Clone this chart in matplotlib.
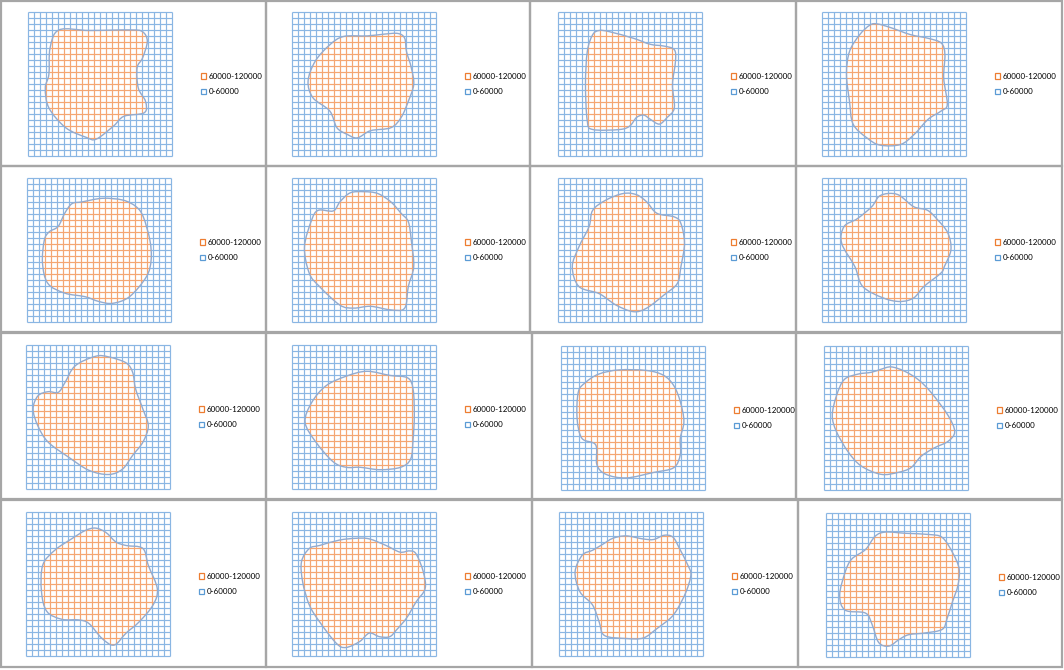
import numpy as np
import matplotlib
matplotlib.use("Agg")
import matplotlib.pyplot as plt
from matplotlib.path import Path
from matplotlib.patches import PathPatch, Rectangle, Patch

plt.rcParams['font.family'] = ['Lato', 'DejaVu Sans']

# ---------------- data ----------------
band_labels = ['60000-120000', '0-60000']   # contour bands (legend)
n_cells = 24                                 # surface grid: 24 x 24 cells

# boundary of the 60000 contour in each panel, (column, row-from-top) in grid cells
blob_01 = [(5.1, 2.9), (10.2, 3.0), (17.0, 2.9), (19.0, 3.2), (19.8, 4.8), (19.0, 7.6), (18.1, 9.2),
           (18.3, 12.6), (19.5, 14.8), (19.3, 16.7), (15.9, 17.3), (14.2, 18.9), (11.3, 21.1), (9.6, 20.8),
           (6.2, 19.2), (3.4, 15.9), (2.8, 12.6), (3.4, 10.3), (3.6, 5.9)]
blob_02 = [(8.5, 4.0), (12.5, 3.9), (15.3, 3.6), (17.6, 3.5), (18.7, 4.3), (19.0, 6.5), (19.8, 9.2),
           (20.2, 12.0), (19.3, 14.8), (18.1, 17.5), (16.4, 19.2), (13.0, 19.7), (10.8, 20.9), (9.1, 20.3),
           (7.4, 19.2), (6.2, 16.4), (3.4, 14.2), (2.6, 11.4), (3.8, 8.1), (6.2, 5.4)]
blob_03 = [(6.8, 3.0), (8.5, 3.2), (12.5, 4.3), (15.3, 5.3), (17.6, 5.6), (19.3, 6.2), (19.5, 8.1),
           (19.0, 12.0), (19.3, 15.9), (18.1, 17.5), (16.8, 18.6), (15.3, 17.8), (14.2, 17.1), (13.0, 17.5),
           (11.9, 18.9), (10.2, 19.5), (5.7, 19.5), (4.8, 18.1), (4.5, 12.0), (4.8, 6.5), (5.7, 3.7)]
blob_04 = [(9.1, 1.9), (11.3, 2.5), (14.7, 3.7), (17.6, 4.3), (19.8, 5.1), (20.4, 7.0), (20.2, 10.9),
           (20.8, 15.3), (19.8, 16.4), (17.6, 17.8), (15.3, 20.3), (13.0, 22.0), (9.6, 22.1), (7.4, 20.9),
           (5.1, 18.6), (4.5, 14.8), (4.0, 10.3), (4.5, 6.5), (6.2, 3.7), (7.9, 2.1)]
blob_05 = [(9.1, 3.9), (12.5, 3.3), (15.9, 3.6), (18.1, 4.7), (19.3, 6.4), (20.4, 10.3), (20.6, 13.6),
           (19.8, 16.4), (17.0, 19.7), (14.2, 20.8), (11.9, 20.5), (9.6, 19.7), (6.2, 19.1), (3.4, 17.5),
           (2.5, 14.1), (2.8, 10.3), (3.6, 8.9), (5.1, 8.0), (6.2, 5.8), (7.4, 4.2)]
blob_06 = [(9.6, 2.4), (11.9, 2.2), (14.2, 2.5), (16.4, 3.9), (18.1, 5.8), (19.3, 7.2), (19.8, 10.3),
           (20.2, 14.7), (19.3, 18.0), (18.7, 21.6), (16.4, 21.9), (13.0, 21.3), (10.2, 21.6), (7.9, 21.1),
           (4.5, 18.0), (2.8, 15.8), (2.0, 11.4), (3.2, 6.9), (4.3, 5.3), (6.8, 5.4), (7.9, 3.9)]
blob_07 = [(10.8, 2.5), (13.0, 2.7), (14.7, 3.9), (16.4, 5.8), (19.3, 6.4), (20.4, 7.5), (21.0, 10.8),
           (20.4, 14.7), (19.8, 17.5), (17.6, 19.4), (14.7, 21.6), (12.5, 22.2), (9.6, 21.1), (6.8, 19.2),
           (3.4, 18.0), (2.3, 14.7), (3.4, 11.4), (5.1, 8.0), (5.7, 5.3), (7.9, 3.6)]
blob_08 = [(11.0, 2.5), (12.8, 2.8), (15.2, 4.7), (17.5, 5.3), (19.2, 6.9), (20.9, 9.1), (21.4, 11.9),
           (20.3, 14.7), (19.7, 15.8), (16.9, 18.0), (15.2, 19.9), (12.9, 20.5), (10.1, 19.9), (6.7, 18.0),
           (5.4, 14.7), (3.2, 10.8), (3.6, 8.0), (5.8, 6.7), (8.2, 4.7), (9.4, 3.0)]
blob_09 = [(11.5, 1.8), (13.7, 1.9), (16.6, 2.9), (17.7, 4.5), (18.2, 7.3), (19.4, 10.6), (20.3, 13.4),
           (19.4, 16.1), (17.7, 18.3), (16.0, 20.6), (13.7, 21.5), (10.4, 20.8), (7.0, 18.6), (3.6, 16.1),
           (1.9, 13.4), (1.1, 10.6), (1.9, 8.4), (3.6, 7.7), (5.3, 7.8), (6.4, 6.2), (8.1, 3.4)]
blob_10 = [(12.4, 4.3), (16.3, 5.0), (19.2, 5.4), (20.1, 7.3), (20.3, 11.7), (20.1, 15.6), (19.7, 18.9),
           (18.0, 20.3), (14.6, 20.7), (11.3, 20.3), (9.0, 20.3), (6.8, 19.4), (3.9, 16.1), (2.1, 12.8),
           (3.2, 9.5), (5.6, 6.7), (9.0, 5.1)]
blob_11 = [(6.2, 4.6), (9.6, 3.9), (14.2, 4.0), (17.0, 4.8), (18.7, 6.5), (19.8, 9.2), (20.4, 12.5),
           (19.8, 15.3), (19.8, 18.0), (18.7, 20.2), (15.3, 21.0), (10.8, 21.9), (7.4, 21.3), (5.9, 19.7),
           (5.7, 16.4), (3.4, 15.3), (2.6, 12.0), (2.8, 7.6), (4.0, 6.0)]
blob_12 = [(9.4, 3.8), (11.1, 3.4), (13.3, 4.1), (15.6, 5.5), (17.8, 7.7), (20.6, 11.5), (21.7, 14.2),
           (20.6, 15.8), (18.3, 16.9), (16.1, 18.3), (14.4, 20.2), (12.2, 21.0), (9.4, 21.3), (6.1, 19.9),
           (3.9, 17.5), (2.0, 14.2), (1.3, 11.5), (2.0, 8.2), (3.3, 5.5), (5.6, 4.6), (7.8, 4.3)]
blob_13 = [(11.5, 2.6), (13.2, 3.3), (14.9, 4.9), (16.6, 5.5), (19.4, 6.0), (20.3, 8.8), (21.8, 12.7),
           (21.1, 15.4), (18.8, 18.2), (16.6, 20.1), (14.6, 22.1), (12.6, 21.0), (10.4, 18.5), (8.7, 17.9),
           (5.9, 17.8), (3.4, 16.5), (2.5, 13.2), (2.7, 8.8), (4.7, 6.3), (7.5, 4.4), (9.8, 3.0)]
blob_14 = [(2.8, 6.0), (4.5, 5.5), (7.8, 4.6), (10.6, 4.3), (12.8, 4.4), (15.6, 5.5), (17.9, 6.6),
           (19.5, 6.4), (20.6, 6.9), (21.8, 9.9), (22.1, 12.7), (20.6, 14.9), (19.0, 17.6), (17.3, 19.6),
           (16.2, 20.7), (14.5, 20.7), (12.8, 20.1), (11.2, 21.5), (8.9, 22.5), (7.3, 21.8), (4.5, 18.2),
           (2.8, 15.4), (1.7, 11.6), (1.5, 8.2)]
blob_15 = [(8.9, 4.3), (11.1, 3.9), (13.9, 4.4), (15.7, 4.5), (17.4, 3.8), (18.9, 4.1), (20.0, 6.0),
           (21.4, 8.8), (21.9, 10.4), (21.1, 13.2), (19.7, 16.0), (18.5, 17.6), (16.3, 19.3), (14.0, 20.9),
           (11.1, 21.0), (7.5, 20.5), (6.6, 18.2), (5.5, 15.4), (3.4, 13.2), (2.6, 9.9), (3.8, 7.1),
           (5.5, 6.3), (7.2, 5.3)]
blob_16 = [(9.8, 3.1), (13.2, 3.3), (17.1, 3.5), (19.3, 4.0), (21.0, 6.5), (22.1, 9.2), (21.9, 12.0),
           (21.0, 14.7), (20.1, 17.5), (19.3, 19.3), (16.5, 19.9), (13.7, 20.2), (12.1, 21.0), (10.4, 22.1),
           (8.7, 21.5), (7.6, 18.5), (6.5, 16.6), (3.1, 16.1), (2.2, 13.6), (3.1, 9.8), (4.2, 7.6),
           (6.5, 6.0), (8.1, 3.8)]

blobs = [blob_01, blob_02, blob_03, blob_04, blob_05, blob_06, blob_07, blob_08,
         blob_09, blob_10, blob_11, blob_12, blob_13, blob_14, blob_15, blob_16]

# ---------------- layout (pixels) ----------------
W, H = 1064, 670
frames = [(1, 1, 266, 166), (266, 1, 530, 166), (530, 1, 796, 166), (796, 1, 1062, 166),
          (1, 166, 266, 332), (266, 166, 530, 332), (530, 166, 796, 332), (796, 166, 1062, 332),
          (1, 333, 266, 499), (266, 333, 532, 499), (532, 333, 796, 499), (796, 333, 1062, 499),
          (1, 500, 266, 667), (266, 500, 532, 667), (532, 500, 798, 667), (798, 500, 1062, 667)]
# top-left corner of each 144 x 144 px surface grid
grid_origin = [(28, 12), (292, 12), (558, 12), (822, 12),
               (27, 178), (292, 178), (558, 178), (822, 178),
               (26, 345), (292, 345), (561, 346), (824, 346),
               (26, 512), (292, 512), (559, 512), (826, 513)]
GRID_PX = 144
LW = 72.0 / 100 * 1.2      # grid line width in points (about 1.2 px)

GRID_BLUE = '#8AB6E3'
GRID_ORANGE = '#F4A672'
OUTLINE = '#93ABCF'
LEG_ORANGE = '#ED7D31'
LEG_BLUE = '#5B9BD5'
FRAME = '#A6A6A6'


def smooth_closed_path(pts):
    P = np.asarray(pts, dtype=float)
    n = len(P)
    verts = [P[0]]
    codes = [Path.MOVETO]
    for i in range(n):
        p0, p1, p2, p3 = P[i - 1], P[i], P[(i + 1) % n], P[(i + 2) % n]
        c1 = p1 + (p2 - p0) / 6.0
        c2 = p2 - (p3 - p1) / 6.0
        verts += [c1, c2, p2]
        codes += [Path.CURVE4] * 3
    verts.append(P[0])
    codes.append(Path.CLOSEPOLY)
    return Path(np.array(verts), codes)


fig = plt.figure(figsize=(W / 100, H / 100), dpi=100)
fig.patch.set_facecolor('white')

lines = np.arange(n_cells + 1)
for k in range(16):
    l, t, r, b = frames[k]
    fig.patches.append(Rectangle((l / W, 1 - b / H), (r - l) / W, (b - t) / H,
                                 transform=fig.transFigure, fill=False, ec=FRAME, lw=1.6))
    gl, gt = grid_origin[k]
    # half-pixel offset puts every grid line on a pixel centre
    ax = fig.add_axes([(gl + 0.5) / W, 1 - (gt + GRID_PX + 0.5) / H, GRID_PX / W, GRID_PX / H])
    ax.set_xlim(0, n_cells)
    ax.set_ylim(n_cells, 0)
    ax.axis('off')

    # 0-60000 band: blue wireframe
    for coll in (ax.vlines(lines, 0, n_cells, colors=GRID_BLUE, lw=LW, zorder=1),
                 ax.hlines(lines, 0, n_cells, colors=GRID_BLUE, lw=LW, zorder=1)):
        coll.set_clip_on(False)
        coll.set_snap(False)

    # 60000-120000 band
    path = smooth_closed_path(blobs[k])
    region = PathPatch(path, fc='white', ec='none', zorder=2)
    ax.add_patch(region)
    for coll in (ax.vlines(lines, 0, n_cells, colors=GRID_ORANGE, lw=LW, zorder=3),
                 ax.hlines(lines, 0, n_cells, colors=GRID_ORANGE, lw=LW, zorder=3)):
        coll.set_clip_path(region)
        coll.set_snap(False)
    ax.add_patch(PathPatch(path, fc='none', ec=OUTLINE, lw=1.0, zorder=4))

    handles = [Patch(fc='white', ec=LEG_ORANGE, lw=0.9), Patch(fc='white', ec=LEG_BLUE, lw=0.9)]
    fig.legend(handles, band_labels, loc='center left',
               bbox_to_anchor=((gl + GRID_PX + 29) / W, 1 - (gt + GRID_PX / 2) / H),
               bbox_transform=fig.transFigure, frameon=False, fontsize=5.8,
               handlelength=0.65, handleheight=0.65, handletextpad=0.35,
               labelspacing=1.05, borderpad=0, borderaxespad=0)

fig.savefig('out.png', dpi=100, facecolor='white')
